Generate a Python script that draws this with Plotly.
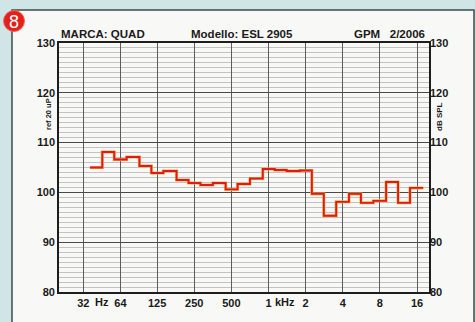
import plotly.graph_objects as go

# Third-octave band centres (Hz) and measured SPL (dB)
band_centres = [40, 50, 63, 80, 100, 125, 160, 200, 250, 315, 400, 500, 630, 800,
                1000, 1250, 1600, 2000, 2500, 3150, 4000, 5000, 6300, 8000,
                10000, 12500, 16000]
spl_db = [105.0, 108.1, 106.6, 107.1, 105.3, 103.9, 104.3, 102.5, 101.9, 101.5,
          101.9, 100.6, 101.7, 102.8, 104.7, 104.5, 104.3, 104.4, 99.7, 95.3,
          98.1, 99.7, 97.9, 98.3, 102.1, 97.9, 100.9]

grid_freqs = [31.5, 63, 125, 250, 500, 1000, 2000, 4000, 8000, 16000]
grid_labels = ["32", "64", "125", "250", "500", "1", "2", "4", "8", "16"]
y_ticks = [80, 90, 100, 110, 120, 130]

# band edges (1/3 octave: centre * 2^(+-1/6))
third = 2 ** (1 / 6)
edges = [band_centres[0] / third] + [c * third for c in band_centres]
step_y = spl_db + [spl_db[-1]]

fig = go.Figure()
fig.add_trace(go.Scatter(x=edges, y=step_y, mode="lines", line_shape="hv",
                         line=dict(color="#f6b13a", width=3.0), hoverinfo="skip",
                         showlegend=False))
fig.add_trace(go.Scatter(x=edges, y=step_y, mode="lines", line_shape="hv",
                         line=dict(color="#e3171f", width=1.9), showlegend=False))
fig.add_trace(go.Scatter(x=[1000], y=[100], yaxis="y2", mode="markers",
                         marker=dict(opacity=0), hoverinfo="skip", showlegend=False))

FAM = "Liberation Sans, Arial, sans-serif"
tick_font = dict(family=FAM, size=11, color="#1a1a1a", weight="bold")
head_font = dict(family=FAM, size=11.5, color="#1a1a1a", weight="bold")
side_font = dict(family=FAM, size=7.5, color="#1a1a1a", weight="bold")


def px_x(p):
    return (p - 59) / 370


def px_y(p):
    return (292 - p) / 249


fig.update_layout(
    width=475, height=322,
    margin=dict(l=59, r=46, t=43, b=30),
    paper_bgcolor="#cfe5e6",
    plot_bgcolor="#fcfcfb",
    xaxis=dict(type="log", range=[1.30103, 4.30103],
               tickmode="array", tickvals=grid_freqs, ticktext=grid_labels,
               showgrid=True, gridcolor="#5c5c5c", gridwidth=1,
               showline=True, mirror=True, linecolor="#1e1e1e", linewidth=1.6,
               ticks="", tickfont=tick_font, zeroline=False),
    yaxis=dict(range=[80, 130], tickmode="array", tickvals=y_ticks,
               showgrid=True, gridcolor="#4a4a4a", gridwidth=1.4,
               minor=dict(dtick=1, showgrid=True, gridcolor="#c2c2c2", gridwidth=0.8),
               showline=True, mirror=True, linecolor="#1e1e1e", linewidth=1.6,
               ticks="", tickfont=tick_font, zeroline=False),
    yaxis2=dict(range=[80, 130], overlaying="y", side="right", tickmode="array",
                tickvals=y_ticks, showgrid=False, ticks="", tickfont=tick_font,
                zeroline=False, showline=False),
    shapes=[
        dict(type="rect", xref="paper", yref="paper", x0=px_x(12), x1=px_x(474),
             y0=px_y(340), y1=px_y(10), fillcolor="#f8f8f6",
             line=dict(color="#3d4b4b", width=1.5), layer="below"),
        dict(type="circle", xref="paper", yref="paper",
             x0=px_x(3.5), x1=px_x(24.5), y0=px_y(31.5), y1=px_y(10.5),
             fillcolor="#e3201b", line=dict(color="#f06a5a", width=1)),
    ],
    annotations=[
        dict(text="8", xref="paper", yref="paper", x=px_x(14), y=px_y(21.5),
             xanchor="center", yanchor="middle", showarrow=False,
             font=dict(family=FAM, size=18, color="white")),
        dict(text="MARCA: QUAD", xref="paper", yref="paper", x=px_x(59), y=px_y(34),
             xanchor="left", yanchor="middle", showarrow=False, font=head_font),
        dict(text="Modello: ESL 2905", xref="paper", yref="paper", x=px_x(189),
             y=px_y(34), xanchor="left", yanchor="middle", showarrow=False, font=head_font),
        dict(text="GPM&nbsp;&nbsp;&nbsp;2/2006", xref="paper", yref="paper", x=px_x(352),
             y=px_y(34), xanchor="left", yanchor="middle", showarrow=False, font=head_font),
        dict(text="Hz", x=1.652, xref="x", yref="paper", y=0, yanchor="top", yshift=-2,
             showarrow=False, font=tick_font),
        dict(text="kHz", x=3.135, xref="x", yref="paper", y=0, yanchor="top", yshift=-2,
             showarrow=False, font=tick_font),
        dict(text="ref 20 uP", xref="paper", yref="paper", x=px_x(48), y=px_y(114),
             xanchor="center", yanchor="middle", textangle=-90, showarrow=False,
             font=side_font),
        dict(text="dB SPL", xref="paper", yref="paper", x=px_x(439), y=px_y(117),
             xanchor="center", yanchor="middle", textangle=-90, showarrow=False,
             font=dict(family=FAM, size=8, color="#1a1a1a", weight="bold")),
    ],
)

fig.write_html("out.html", post_script="document.body.style.margin='0';",
               config={"displayModeBar": False})
